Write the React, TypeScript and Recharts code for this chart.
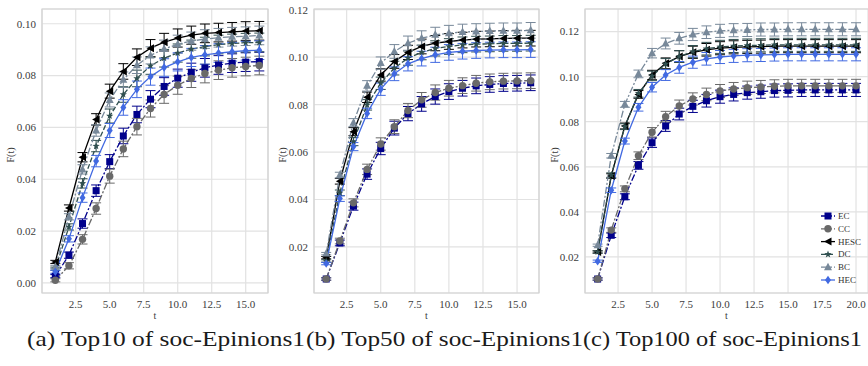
import React from 'react';
import { LineChart, Line, XAxis, YAxis, CartesianGrid, ErrorBar, ReferenceArea, Legend } from 'recharts';

// ---------- data ----------
const seriesNames = ['EC', 'CC', 'HESC', 'DC', 'BC', 'HEC'];

const tA = [1, 2, 3, 4, 5, 6, 7, 8, 9, 10, 11, 12, 13, 14, 15, 16];
const ecA = [0.0026, 0.0107, 0.0229, 0.0356, 0.0468, 0.0567, 0.065, 0.0709, 0.0758, 0.079, 0.0813, 0.083, 0.0841, 0.0848, 0.0852, 0.0854];
const ccA = [0.001, 0.0066, 0.0168, 0.0287, 0.0412, 0.0517, 0.0603, 0.0673, 0.0727, 0.0763, 0.0789, 0.0808, 0.0821, 0.083, 0.0835, 0.0839];
const hescA = [0.0081, 0.0289, 0.0485, 0.0631, 0.074, 0.0816, 0.0871, 0.0906, 0.0929, 0.0945, 0.0956, 0.0963, 0.0966, 0.0969, 0.0972, 0.0973];
const dcA = [0.0055, 0.0216, 0.0384, 0.0528, 0.0644, 0.0727, 0.0789, 0.0838, 0.0867, 0.0887, 0.0902, 0.0912, 0.092, 0.0924, 0.0927, 0.0928];
const bcA = [0.0062, 0.0255, 0.0438, 0.0588, 0.0706, 0.0784, 0.084, 0.0878, 0.0903, 0.0921, 0.0933, 0.0941, 0.0946, 0.095, 0.0952, 0.0955];
const hecA = [0.0043, 0.017, 0.0329, 0.047, 0.0588, 0.0677, 0.0747, 0.0796, 0.0831, 0.0853, 0.087, 0.088, 0.0887, 0.0892, 0.0896, 0.0898];
const errA = [0.0006, 0.0012, 0.0018, 0.0022, 0.0027, 0.003, 0.0032, 0.0033, 0.0034, 0.0035, 0.0035, 0.0036, 0.0036, 0.0036, 0.0036, 0.0036];

const tB = [1, 2, 3, 4, 5, 6, 7, 8, 9, 10, 11, 12, 13, 14, 15, 16];
const ecB = [0.0065, 0.0217, 0.0372, 0.0507, 0.0615, 0.0701, 0.0762, 0.0803, 0.0834, 0.0855, 0.0869, 0.0879, 0.0885, 0.0889, 0.089, 0.0892];
const ccB = [0.0065, 0.0225, 0.0386, 0.0527, 0.0634, 0.0707, 0.0775, 0.082, 0.0851, 0.0869, 0.088, 0.089, 0.0896, 0.0899, 0.09, 0.0901];
const hescB = [0.0155, 0.0477, 0.0686, 0.0831, 0.0925, 0.0982, 0.102, 0.1045, 0.1059, 0.1066, 0.1072, 0.1076, 0.1077, 0.1079, 0.108, 0.108];
const dcB = [0.0141, 0.0428, 0.0644, 0.0799, 0.089, 0.0954, 0.0996, 0.102, 0.1037, 0.1045, 0.1052, 0.1055, 0.1056, 0.1058, 0.1058, 0.1059];
const bcB = [0.0172, 0.0503, 0.0724, 0.0879, 0.0975, 0.1024, 0.1059, 0.108, 0.1094, 0.1101, 0.1106, 0.1108, 0.111, 0.1111, 0.1111, 0.1113];
const hecB = [0.013, 0.0404, 0.0623, 0.0763, 0.0865, 0.093, 0.0972, 0.0994, 0.101, 0.102, 0.1025, 0.1028, 0.103, 0.1031, 0.1031, 0.1032];
const errB = [0.0005, 0.0012, 0.0017, 0.0022, 0.0026, 0.0029, 0.003, 0.0031, 0.0032, 0.0033, 0.0033, 0.0033, 0.0033, 0.0033, 0.0033, 0.0033];

const tC = [1, 2, 3, 4, 5, 6, 7, 8, 9, 10, 11, 12, 13, 14, 15, 16, 17, 18, 19, 20];
const ecC = [0.0102, 0.0296, 0.0467, 0.0606, 0.0707, 0.0781, 0.0834, 0.0868, 0.0893, 0.0911, 0.0921, 0.0929, 0.0933, 0.0938, 0.0939, 0.0941, 0.0941, 0.0941, 0.0941, 0.0941];
const ccC = [0.0102, 0.0319, 0.0502, 0.0649, 0.0753, 0.0822, 0.087, 0.0901, 0.0921, 0.0936, 0.0945, 0.0951, 0.0954, 0.0957, 0.0959, 0.0959, 0.0959, 0.0959, 0.0959, 0.0959];
const hescC = [0.0222, 0.0559, 0.0781, 0.0921, 0.1007, 0.1059, 0.1089, 0.1108, 0.1119, 0.1126, 0.113, 0.1132, 0.1133, 0.1135, 0.1135, 0.1135, 0.1135, 0.1135, 0.1135, 0.1135];
const dcC = [0.0222, 0.0563, 0.0778, 0.0926, 0.1003, 0.1056, 0.1089, 0.1111, 0.1124, 0.1132, 0.1136, 0.1138, 0.1139, 0.1141, 0.1141, 0.1141, 0.1141, 0.1141, 0.1141, 0.1141];
const bcC = [0.0252, 0.0649, 0.0877, 0.1012, 0.1104, 0.1147, 0.117, 0.1187, 0.1197, 0.1203, 0.1206, 0.1207, 0.1209, 0.1209, 0.121, 0.121, 0.121, 0.121, 0.121, 0.121];
const hecC = [0.0181, 0.0496, 0.0714, 0.0864, 0.0953, 0.1007, 0.1041, 0.1064, 0.1079, 0.1087, 0.1092, 0.1095, 0.1096, 0.1098, 0.1099, 0.1099, 0.1099, 0.1099, 0.1099, 0.1099];
const errC = [0.0005, 0.001, 0.0013, 0.0017, 0.0021, 0.0024, 0.0026, 0.0027, 0.0028, 0.0029, 0.0029, 0.0029, 0.0029, 0.0029, 0.0029, 0.0029, 0.0029, 0.0029, 0.0029, 0.0029];

const xTicksA = [2.5, 5, 7.5, 10, 12.5, 15];
const xTicksC = [2.5, 5, 7.5, 10, 12.5, 15, 17.5, 20];
const yTicksA = [0, 0.02, 0.04, 0.06, 0.08, 0.1];
const yTicksB = [0.02, 0.04, 0.06, 0.08, 0.1, 0.12];
const yTicksC = [0.02, 0.04, 0.06, 0.08, 0.1, 0.12];

const captions = ['(a) Top10 of soc-Epinions1', '(b) Top50 of soc-Epinions1', '(c) Top100 of soc-Epinions1'];

// ---------- build tables ----------
function buildRows(t: number[], vals: number[][], err: number[]) {
  return t.map((tv, i) => {
    const row: any = { t: tv };
    seriesNames.forEach((s, k) => {
      row[s] = vals[k][i];
      row[s + '_err'] = err[i];
    });
    return row;
  });
}
const dataA = buildRows(tA, [ecA, ccA, hescA, dcA, bcA, hecA], errA);
const dataB = buildRows(tB, [ecB, ccB, hescB, dcB, bcB, hecB], errB);
const dataC = buildRows(tC, [ecC, ccC, hescC, dcC, bcC, hecC], errC);

// ---------- styles ----------
const styles: Record<string, { color: string; dash?: string; marker: string }> = {
  EC: { color: '#00008B', dash: '7 2 2 2', marker: 'square' },
  CC: { color: '#696969', dash: '7 2 2 2', marker: 'circle' },
  HESC: { color: '#000000', marker: 'tleft' },
  DC: { color: '#2F4F4F', dash: '5 2', marker: 'star' },
  BC: { color: '#778899', dash: '7 2 2 2', marker: 'tup' },
  HEC: { color: '#4169E1', marker: 'diamond' },
};

const FONT = "'Liberation Serif', Tinos, 'Times New Roman', Times, serif";
const TICK_COLOR = '#3c3c3c';
const GRID = '#e2e2e2';
const BORDER = '#d2d2d2';

function Marker({ cx, cy, shape, color }: { cx: number; cy: number; shape: string; color: string }) {
  if (cx == null || cy == null || isNaN(cx) || isNaN(cy)) return null;
  switch (shape) {
    case 'square':
      return <rect x={cx - 3.5} y={cy - 3.5} width={7} height={7} fill={color} />;
    case 'circle':
      return <circle cx={cx} cy={cy} r={3.7} fill={color} />;
    case 'tleft':
      return <polygon points={`${cx - 4},${cy} ${cx + 3.5},${cy - 4} ${cx + 3.5},${cy + 4}`} fill={color} />;
    case 'tup':
      return <polygon points={`${cx},${cy - 4.5} ${cx - 4},${cy + 3} ${cx + 4},${cy + 3}`} fill={color} />;
    case 'star': {
      const pts: string[] = [];
      for (let i = 0; i < 10; i++) {
        const r = i % 2 === 0 ? 3.8 : 1.6;
        const a = -Math.PI / 2 + (i * Math.PI) / 5;
        pts.push(`${cx + r * Math.cos(a)},${cy + r * Math.sin(a)}`);
      }
      return <polygon points={pts.join(' ')} fill={color} />;
    }
    case 'diamond':
      return <polygon points={`${cx},${cy - 4.2} ${cx + 3},${cy} ${cx},${cy + 4.2} ${cx - 3},${cy}`} fill={color} />;
    default:
      return null;
  }
}

function LegendContent() {
  return (
    <svg width={64} height={80} style={{ display: 'block' }}>
      {seriesNames.map((s, i) => {
        const st = styles[s];
        const y = 6 + i * 12.8;
        return (
          <g key={s}>
            <line x1={1} x2={15} y1={y} y2={y} stroke={st.color} strokeWidth={1.3} strokeDasharray={st.dash} />
            <Marker cx={8} cy={y} shape={st.marker} color={st.color} />
            <text x={18} y={y + 3} fontSize={9} style={{ fontFamily: FONT }} fill="#333">{s}</text>
          </g>
        );
      })}
    </svg>
  );
}

type PanelProps = {
  data: any[];
  left: number;
  width: number;
  yWidth: number;
  rightMargin: number;
  xDomain: [number, number];
  yDomain: [number, number];
  xTicks: number[];
  yTicks: number[];
  legend?: boolean;
  borderRight?: number;
};

const tickStyle = { fontSize: 11, fill: TICK_COLOR, fontFamily: FONT, style: { fontFamily: FONT } };

function Panel(p: PanelProps) {
  return (
    <div style={{ position: 'absolute', left: p.left, top: 0 }}>
      <LineChart width={p.width} height={326} data={p.data} margin={{ top: 9, right: p.rightMargin, bottom: 6, left: 0 }}>
        <CartesianGrid stroke={GRID} strokeWidth={1.2} />
        <ReferenceArea
          x1={p.xDomain[0]}
          x2={p.borderRight ?? p.xDomain[1]}
          y1={p.yDomain[0]}
          y2={p.yDomain[1]}
          fill="none"
          stroke={BORDER}
          strokeWidth={1.2}
          ifOverflow="visible"
        />
        <XAxis
          type="number"
          dataKey="t"
          domain={p.xDomain}
          allowDataOverflow
          ticks={p.xTicks}
          tickFormatter={(v: number) => v.toFixed(1)}
          tickLine={false}
          axisLine={false}
          height={27}
          tickSize={6}
          tickMargin={1}
          tick={tickStyle}
          label={{
            content: (lp: any) => {
              const vb = lp.viewBox || {};
              return (
                <text x={vb.x + vb.width / 2} y={319} textAnchor="middle" fontSize={10} style={{ fontFamily: FONT }} fill={TICK_COLOR}>
                  t
                </text>
              );
            },
          }}
        />
        <YAxis
          type="number"
          domain={p.yDomain}
          allowDataOverflow
          ticks={p.yTicks}
          tickFormatter={(v: number) => v.toFixed(2)}
          tickLine={false}
          axisLine={false}
          width={p.yWidth}
          tickSize={6}
          tickMargin={0}
          tick={tickStyle}
          label={{
            content: (lp: any) => {
              const vb = lp.viewBox || {};
              const cx = 10;
              const cy = vb.y + vb.height / 2 + 4;
              return (
                <text x={cx} y={cy} transform={`rotate(-90 ${cx} ${cy})`} textAnchor="middle" dominantBaseline="central" fontSize={10} style={{ fontFamily: FONT }} fill={TICK_COLOR}>
                  F(t)
                </text>
              );
            },
          }}
        />
        {seriesNames.map((s) => {
          const st = styles[s];
          return (
            <Line
              key={s}
              type="linear"
              dataKey={s}
              stroke={st.color}
              strokeWidth={1.3}
              strokeDasharray={st.dash}
              isAnimationActive={false}
              dot={(dp: any) => <Marker key={`${s}-${dp.index}`} cx={dp.cx} cy={dp.cy} shape={st.marker} color={st.color} />}
              activeDot={false}
            >
              <ErrorBar dataKey={s + '_err'} direction="y" width={5} stroke={st.color} strokeWidth={1} />
            </Line>
          );
        })}
        {p.legend && (
          <Legend
            layout="horizontal"
            verticalAlign="middle"
            align="center"
            wrapperStyle={{ left: 276, top: 210, width: 64, height: 80 }}
            content={() => <LegendContent />}
          />
        )}
      </LineChart>
    </div>
  );
}

export default function App() {
  const capStyle = { fontFamily: FONT };
  return (
    <div style={{ position: 'absolute', left: 0, top: 0, width: 868, height: 366, background: '#fff', overflow: 'hidden' }}>
      <Panel data={dataA} left={0} width={280} yWidth={42} rightMargin={12} xDomain={[0.02, 16.64]} yDomain={[-0.0039, 0.1057]} xTicks={xTicksA} yTicks={yTicksA} />
      <Panel data={dataB} left={272} width={280} yWidth={42} rightMargin={13} xDomain={[0.105, 16.61]} yDomain={[0.0006, 0.1203]} xTicks={xTicksA} yTicks={yTicksB} />
      <Panel data={dataC} left={544} width={324} yWidth={41} rightMargin={0} xDomain={[0.07, 20.88]} yDomain={[0.004, 0.13]} xTicks={xTicksC} yTicks={yTicksC} legend borderRight={21.2} />
      <svg width={868} height={46} style={{ position: 'absolute', left: 0, top: 320 }}>
        <text x={27} y={26} fontSize={21} style={capStyle} fill="#1a1a1a" textLength={278} lengthAdjust="spacingAndGlyphs">{captions[0]}</text>
        <text x={306} y={26} fontSize={21} style={capStyle} fill="#1a1a1a" textLength={277} lengthAdjust="spacingAndGlyphs">{captions[1]}</text>
        <text x={583} y={26} fontSize={21} style={capStyle} fill="#1a1a1a" textLength={279} lengthAdjust="spacingAndGlyphs">{captions[2]}</text>
      </svg>
    </div>
  );
}
